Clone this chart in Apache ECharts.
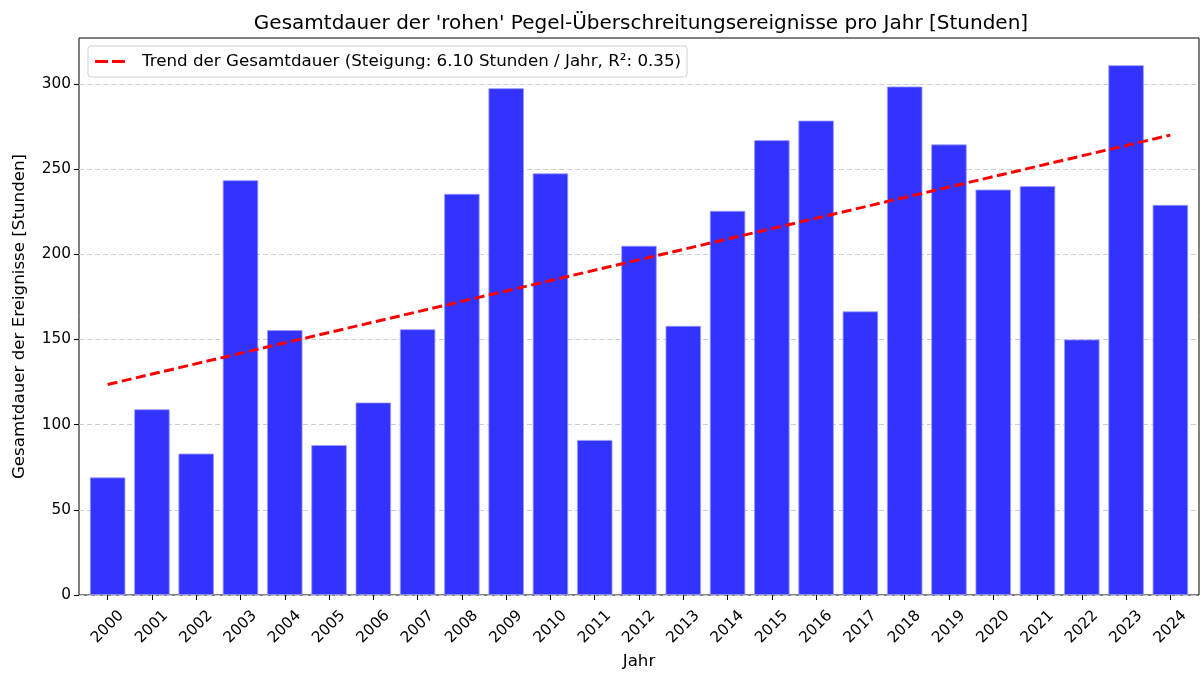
<!DOCTYPE html>
<html>
<head>
<meta charset="utf-8">
<script src="https://cdn.jsdelivr.net/npm/echarts@6/dist/echarts.min.js"></script>
<style>html,body{margin:0;padding:0;background:#fff}#c{width:1203px;height:673px}</style>
</head>
<body>
<div id="c"></div>
<script>
const years = ['2000','2001','2002','2003','2004','2005','2006','2007','2008','2009','2010','2011','2012','2013','2014','2015','2016','2017','2018','2019','2020','2021','2022','2023','2024'];
const durations = [69,109,83,243.5,155.5,88,113,156,235.5,297.5,247.5,91,205,158,225.5,267,278.5,166.5,298.5,264.5,238,240,150,311,229];
const trendYears = ['2000','2024'];
const trendValues = [123.6, 270.0];
const yTicks = [0,50,100,150,200,250,300];
const titleText = "Gesamtdauer der 'rohen' Pegel-Überschreitungsereignisse pro Jahr [Stunden]";
const trendName = 'Trend der Gesamtdauer (Steigung: 6.10 Stunden / Jahr, R²: 0.35)';

const FONT = 'DejaVu Sans';
const chart = echarts.init(document.getElementById('c'), null, {renderer:'canvas'});
const yMax = 327;
chart.setOption({
  animation: false,
  backgroundColor: '#fff',
  textStyle: {fontFamily: FONT},
  title: {
    text: titleText, left: 636, top: 9, textAlign: 'center',
    textStyle: {fontFamily: FONT, fontSize: 20, fontWeight: 'normal', color: '#000'}
  },
  legend: {
    data: [{name: trendName, icon: 'path://M0,0h13v3h-13zM17,0h13v3h-13z'}],
    left: 88, top: 46, orient: 'horizontal',
    padding: [6, 6, 6, 7], itemWidth: 30, itemHeight: 3,
    borderColor: '#d0d0d0', borderWidth: 1, borderRadius: 3, backgroundColor: 'rgba(255,255,255,0.8)',
    textStyle: {fontFamily: FONT, fontSize: 16.7, lineHeight: 19, color: '#000', padding: [0,0,0,12]}
  },
  grid: [
    {left: 79, right: 4, top: 38, bottom: 78, show: true, borderColor: '#000', borderWidth: 1, backgroundColor: 'transparent', outerBoundsMode: 'none', containLabel: false},
    {left: 85.5, right: 10.5, top: 38, bottom: 78, outerBoundsMode: 'none', containLabel: false}
  ],
  xAxis: [
    {type: 'category', gridIndex: 0, data: years, show: false},
    {type: 'category', gridIndex: 1, data: years,
     name: 'Jahr', nameLocation: 'middle', nameGap: 57,
     nameTextStyle: {fontFamily: FONT, fontSize: 16.7, color: '#000'},
     axisLine: {show: false},
     axisTick: {show: true, alignWithLabel: true, length: 5, lineStyle: {color: '#000'}},
     axisLabel: {rotate: 45, align: 'center', verticalAlign: 'middle', margin: 32, fontFamily: FONT, fontSize: 15.3, color: '#000', interval: 0},
     splitLine: {show: false}}
  ],
  yAxis: [
    {type: 'value', gridIndex: 0, min: 0, max: yMax, interval: 50,
     name: 'Gesamtdauer der Ereignisse [Stunden]', nameLocation: 'middle', nameGap: 51,
     nameTextStyle: {fontFamily: FONT, fontSize: 16.7, color: '#000'},
     axisLine: {show: false},
     axisTick: {show: true, length: 5, lineStyle: {color: '#000'}, customValues: yTicks},
     axisLabel: {fontFamily: FONT, fontSize: 15.3, color: '#000', margin: 8,
       customValues: yTicks,
       formatter: v => (yTicks.indexOf(v) >= 0 ? String(v) : '')},
     splitLine: {show: true, lineStyle: {color: '#cccccc', type: [5, 3], width: 1}}},
    {type: 'value', gridIndex: 1, min: 0, max: yMax, show: false, splitLine: {show: false}}
  ],
  series: [
    {type: 'bar', name: 'Gesamtdauer', xAxisIndex: 1, yAxisIndex: 1, data: durations, barWidth: '80%',
     itemStyle: {color: '#3333ff', borderColor: '#9a9aff', borderWidth: 0.8}, z: 2},
    {type: 'line', name: trendName, xAxisIndex: 1, yAxisIndex: 1,
     data: trendYears.map((y, i) => [y, trendValues[i]]),
     symbol: 'none', lineStyle: {color: '#ff0000', width: 3, type: [10, 4.5]},
     itemStyle: {color: '#ff0000'}, z: 5}
  ]
});
</script>
</body>
</html>
